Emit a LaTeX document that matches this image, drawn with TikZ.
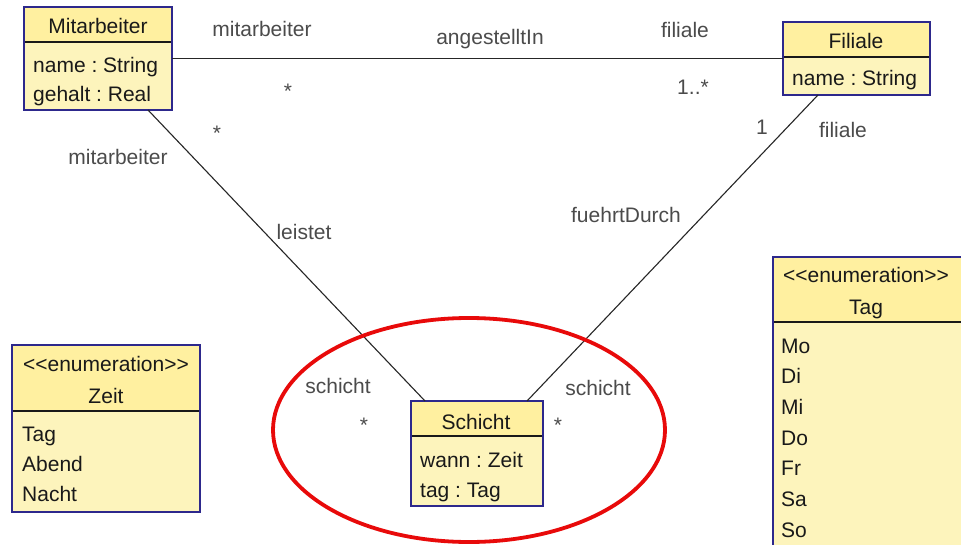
\documentclass[tikz,border=0pt]{standalone}
\usepackage{fontspec}
\setmainfont{Liberation Sans}
\usetikzlibrary{calc}
\frenchspacing
\definecolor{umlhead}{RGB}{255,240,160}
\definecolor{umlbody}{RGB}{253,244,188}
\definecolor{umlframe}{RGB}{45,40,140}
\definecolor{ringred}{RGB}{232,10,10}
\definecolor{labelgray}{RGB}{75,75,75}
\newcommand{\stereo}{<\kern0pt<enumeration>\kern0pt>}
\begin{document}
\begin{tikzpicture}[x=1pt,y=-1pt,
  classbox/.style={fill=umlbody, anchor=north west, inner sep=0pt, outer sep=0pt},
  frame/.style={draw=umlframe, line width=1.8pt},
  divider/.style={draw=black!90, line width=1.5pt},
  txt/.style={inner sep=0pt, font=\fontsize{21}{25}\selectfont, text=black!90},
  lbl/.style={inner sep=0pt, font=\fontsize{21}{25}\selectfont, text=labelgray},
  assoc/.style={draw=black!85, line width=1.1pt},
  ring/.style={draw=ringred, line width=3.8pt},
]
\useasboundingbox (0,0) rectangle (961,545);
\fill[white] (0,0) rectangle (961,545);
\clip (0,0) rectangle (961,545);

% class boxes
\node[classbox, minimum width=148pt, minimum height=103pt] (mit) at (24,7) {};
\node[classbox, minimum width=147pt, minimum height=73pt] (fil) at (783,22) {};
\node[classbox, minimum width=188pt, minimum height=167pt] (zeit) at (12,345) {};
\node[classbox, minimum width=195pt, minimum height=300pt] (tag) at (773,257) {};
\node[classbox, minimum width=132pt, minimum height=105pt] (sch) at (411,401) {};

% header compartments, dividers and frames
\foreach \b/\h in {mit/35, fil/35, zeit/66, tag/65, sch/35} {
  \fill[umlhead] (\b.north west) rectangle ($(\b.north east)+(0,\h)$);
  \draw[divider] ($(\b.north west)+(0,\h)$) -- ($(\b.north east)+(0,\h)$);
  \draw[frame] (\b.north west) rectangle (\b.south east);
}

% class texts
\node[txt, anchor=base] (mitT) at (98,34) {Mitarbeiter};
\node[txt, anchor=base west] (mitA) at (33,73) {name : String};
\node[txt, anchor=base west] (mitB) at (33,102) {gehalt : Real};

\node[txt, anchor=base] (filT) at (856,49) {Filiale};
\node[txt, anchor=base west] (filA) at (792,86) {name : String};

\node[txt, anchor=base] (zeitS) at (106,371) {\stereo};
\node[txt, anchor=base] (zeitT) at (106,403) {Zeit};
\node[txt, anchor=base west] (zeitA) at (22,441) {Tag};
\node[txt, anchor=base west] (zeitB) at (22,471) {Abend};
\node[txt, anchor=base west] (zeitC) at (22,501) {Nacht};

\node[txt, anchor=base] (tagS) at (866,283) {\stereo};
\node[txt, anchor=base] (tagT) at (866,314) {Tag};
\node[txt, anchor=base west] (tagA) at (781,353) {Mo};
\node[txt, anchor=base west] (tagB) at (781,383) {Di};
\node[txt, anchor=base west] (tagC) at (781,414) {Mi};
\node[txt, anchor=base west] (tagD) at (781,445) {Do};
\node[txt, anchor=base west] (tagE) at (781,475) {Fr};
\node[txt, anchor=base west] (tagF) at (781,506) {Sa};
\node[txt, anchor=base west] (tagG) at (781,537) {So};

\node[txt, anchor=base] (schT) at (476,429) {Schicht};
\node[txt, anchor=base west] (schA) at (420,467) {wann : Zeit};
\node[txt, anchor=base west] (schB) at (420,497) {tag : Tag};

% associations
\draw[assoc, line width=1.6pt] (mit.east |- fil.west) -- (fil.west);
\draw[assoc] ($(mit.south west)!0.838!(mit.south east)$) -- ($(sch.north west)!0.106!(sch.north east)$);
\draw[assoc] ($(fil.south west)!0.238!(fil.south east)$) -- ($(sch.north west)!0.879!(sch.north east)$);

% association labels
\node[lbl, anchor=base] (l1) at (262,37) {mitarbeiter};
\node[lbl, anchor=base] (l2) at (490,45) {angestelltIn};
\node[lbl, anchor=base] (l3) at (685,38) {filiale};
\node[lbl] (l4) at (288,91) {*};
\node[lbl, anchor=base] (l5) at (693,95) {1..*};
\node[lbl] (l6) at (217,133) {*};
\node[lbl, anchor=base] (l7) at (118,165) {mitarbeiter};
\node[lbl, anchor=base] (l8) at (304,240) {leistet};
\node[lbl, anchor=base] (l9) at (338,393) {schicht};
\node[lbl] (l10) at (364,425) {*};
\node[lbl, anchor=base] (l11) at (762,135) {1};
\node[lbl, anchor=base] (l12) at (843,138) {filiale};
\node[lbl, anchor=base] (l13) at (626,223) {fuehrtDurch};
\node[lbl, anchor=base] (l14) at (598,395) {schicht};
\node[lbl] (l15) at (558,425) {*};

% highlight ring
\draw[ring] (469,430) ellipse [x radius=196pt, y radius=112pt];
\end{tikzpicture}
\end{document}
